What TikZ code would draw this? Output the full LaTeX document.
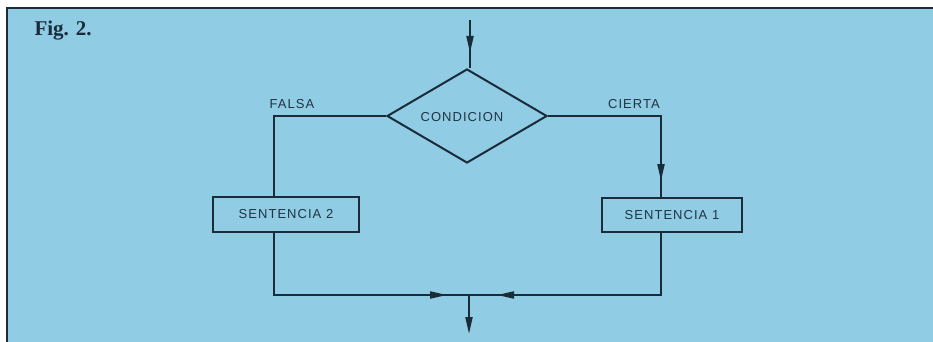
\documentclass[tikz,border=0pt]{standalone}
\usepackage{fontspec}
\setmainfont{Liberation Serif}
\newfontfamily\labfont{Liberation Sans}[LetterSpace=8]
\usetikzlibrary{shapes.geometric,arrows.meta}
\definecolor{bgblue}{RGB}{144,204,228}
\definecolor{ink}{RGB}{26,44,58}
\definecolor{txt}{RGB}{32,52,68}
\tikzset{
  flow/.style={draw=ink,line width=2pt},
  boxnode/.style={draw=ink,line width=2pt,rectangle,inner sep=0pt,text=txt,font=\labfont\fontsize{13}{15}\selectfont},
  lbl/.style={text=txt,font=\labfont\fontsize{13}{15}\selectfont,inner sep=0pt},
  tip/.style={draw=ink,line width=2pt,-{Triangle[length=17pt,width=7pt]}},
}
\begin{document}
\begin{tikzpicture}[x=1pt,y=-1pt]
\useasboundingbox (0,0) rectangle (933,342);
\fill[white] (0,0) rectangle (933,342);
\fill[bgblue] (6,7) rectangle (933,342);
\draw[ink,line width=2.4pt] (7,342) -- (7,8) -- (933,8);
\node[anchor=base west,text=ink,font=\fontsize{21}{24}\selectfont\bfseries] (fig) at (31,36) {Fig. 2.};
% nodes
\node[flow,diamond,shape aspect=1.7,minimum width=160pt,minimum height=94pt,inner sep=0pt] (cond) at (467,116) {};
\node[lbl] (condtxt) at (462,117) {CONDICION};
\node[boxnode,minimum width=146pt,minimum height=35pt] (s2) at (286,214.5) {SENTENCIA 2};
\node[boxnode,minimum width=140pt,minimum height=34pt] (s1) at (672,215) {SENTENCIA 1};
\node[lbl] (falsa) at (292,104) {FALSA};
\node[lbl] (cierta) at (634,104) {CIERTA};
% coordinates
\coordinate (in) at (470,20);
\coordinate (intip) at (470,53);
\coordinate (lx) at (274,116);
\coordinate (rx) at (661,116);
\coordinate (rtip) at (661,181);
\coordinate (lb) at (274,295);
\coordinate (rb) at (661,295);
\coordinate (j) at (469,295);
\coordinate (ltip) at (447,295);
\coordinate (rbtip) at (497,295);
\coordinate (out) at (469,334);
% connectors
\draw[flow] (in) -- (in |- cond.north);
\draw[tip] (in) -- (intip);
\draw[flow] (cond.west) -- (lx) -- (lx |- s2.north);
\draw[flow] (cond.east) -- (rx) -- (rx |- s1.north);
\draw[tip] (rx) -- (rtip);
\draw[flow] (lx |- s2.south) -- (lb) -- (j);
\draw[tip] (lb) -- (ltip);
\draw[flow] (rx |- s1.south) -- (rb) -- (j);
\draw[tip] (rb) -- (rbtip);
\draw[tip] (j) -- (out);
\end{tikzpicture}
\end{document}
